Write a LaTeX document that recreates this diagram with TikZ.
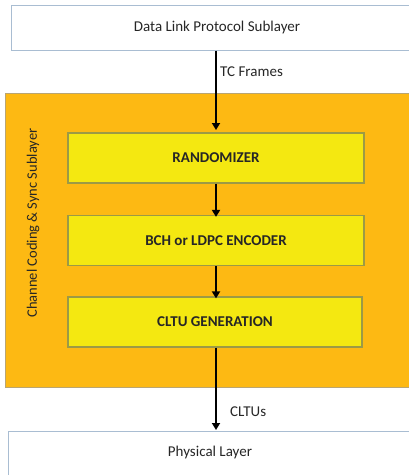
\documentclass[tikz,border=0pt]{standalone}
\usepackage{fontspec}
\setmainfont{Carlito}
\usetikzlibrary{arrows.meta}
\definecolor{layerline}{HTML}{A9BDD2}
\definecolor{subfill}{HTML}{FDB913}
\definecolor{subline}{HTML}{B9A571}
\definecolor{blockfill}{HTML}{F4E811}
\definecolor{blockline}{HTML}{9C9A45}
\definecolor{inktext}{HTML}{262626}
\begin{document}
\begin{tikzpicture}[x=1pt,y=-1pt,
  layerbox/.style={draw=layerline,line width=1pt,fill=white},
  blockbox/.style={draw=blockline,line width=1.2pt,fill=blockfill,
    minimum width=296pt,minimum height=50pt,inner sep=0pt,
    font=\fontsize{15}{17}\selectfont\bfseries,text=inktext},
  flow/.style={line width=1.8pt,-{Triangle[length=7pt,width=8pt]}},
  flowlabel/.style={font=\fontsize{15}{17}\selectfont,text=inktext,anchor=west,inner sep=0pt}]
\useasboundingbox (0,0) rectangle (409,475);
\clip (0,0) rectangle (409,475);

% outer layers
\node[layerbox,minimum width=412pt,minimum height=45pt,inner sep=0pt,
  font=\fontsize{15}{17}\selectfont,text=inktext] (dlp) at (217,27.5) {Data Link Protocol Sublayer};
\node[layerbox,minimum width=404pt,minimum height=50pt,inner sep=0pt] (phy) at (210,456) {};
\node[font=\fontsize{15}{17}\selectfont,text=inktext] (phylbl) at (210,452) {Physical Layer};

% channel coding and synchronization sublayer
\node[draw=subline,line width=1pt,fill=subfill,minimum width=412pt,minimum height=294pt,inner sep=0pt] (sub) at (211,240) {};
\node[rotate=90,font=\fontsize{14.5}{16}\selectfont,text=inktext] (sublbl) at (33,223) {Channel Coding \& Sync Sublayer};

% processing blocks
\node[blockbox] (rnd) at (216,158) {RANDOMIZER};
\node[blockbox] (enc) at (216,240.5) {BCH or LDPC ENCODER};
\node[blockbox,minimum width=294pt] (cltu) at (215,322) {CLTU GENERATION};

% data flow
\coordinate (tin) at (216,130);
\draw[flow] (dlp.south -| tin) -- (tin);
\node[flowlabel] (tcf) at (220,72) {TC Frames};
\draw[flow] (rnd.south) -- ([yshift=-2pt]enc.north);
\draw[flow] (enc.south -| rnd.south) -- ([yshift=-2pt]cltu.north -| rnd.south);
\coordinate (tout) at (216,430);
\draw[flow] (cltu.south -| tout) -- (tout);
\node[flowlabel] (clt) at (230,412) {CLTUs};
\end{tikzpicture}
\end{document}
